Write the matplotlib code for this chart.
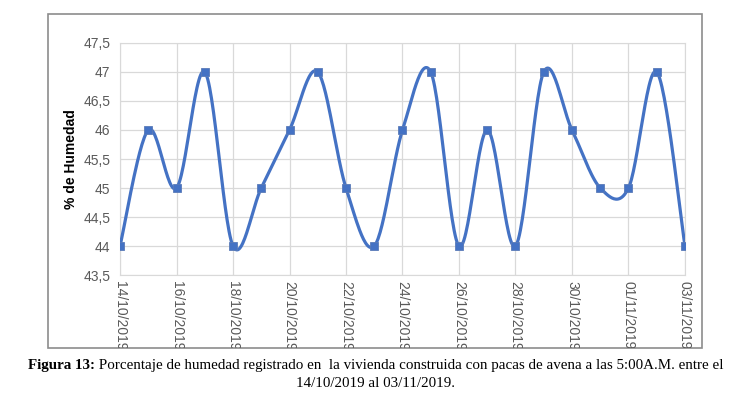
import numpy as np
import matplotlib.pyplot as plt
from matplotlib.patches import Rectangle

# Daily humidity at 5:00 A.M.
dates = ["14/10/2019", "15/10/2019", "16/10/2019", "17/10/2019", "18/10/2019",
         "19/10/2019", "20/10/2019", "21/10/2019", "22/10/2019", "23/10/2019",
         "24/10/2019", "25/10/2019", "26/10/2019", "27/10/2019", "28/10/2019",
         "29/10/2019", "30/10/2019", "31/10/2019", "01/11/2019", "02/11/2019",
         "03/11/2019"]
humedad = [44, 46, 45, 47, 44, 45, 46, 47, 45, 44, 46, 47, 44, 46, 44,
           47, 46, 45, 45, 47, 44]
y_ticks = [43.5, 44, 44.5, 45, 45.5, 46, 46.5, 47, 47.5]

plt.rcParams["font.family"] = "Liberation Sans"


def smooth(x, y, n=30):
    """Excel-like smoothed line (Catmull-Rom bezier segments)"""
    x = np.asarray(x, float)
    y = np.asarray(y, float)
    px = np.concatenate([[x[0]], x, [x[-1]]])
    py = np.concatenate([[y[0]], y, [y[-1]]])
    xs, ys = [], []
    t = np.linspace(0, 1, n)
    for i in range(len(x) - 1):
        p0 = np.array([px[i], py[i]])
        p1 = np.array([px[i + 1], py[i + 1]])
        p2 = np.array([px[i + 2], py[i + 2]])
        p3 = np.array([px[i + 3], py[i + 3]])
        c1 = p1 + (p2 - p0) / 6
        c2 = p2 - (p3 - p1) / 6
        b = ((1 - t) ** 3)[:, None] * p1 + (3 * (1 - t) ** 2 * t)[:, None] * c1 \
            + (3 * (1 - t) * t ** 2)[:, None] * c2 + (t ** 3)[:, None] * p2
        xs.extend(b[:, 0])
        ys.extend(b[:, 1])
    return np.array(xs), np.array(ys)


fig = plt.figure(figsize=(7.51, 3.98), dpi=100)

# chart frame
frame = Rectangle((0.064, 0.126), 0.871, 0.839, transform=fig.transFigure,
                  facecolor="white", edgecolor="#8c8c8c", linewidth=1.2,
                  zorder=-5)
fig.patches.append(frame)

ax = fig.add_axes([0.1598, 0.309, 0.7523, 0.583])
ax.set_facecolor("none")
x = np.arange(len(dates))
sx, sy = smooth(x, humedad)
ax.plot(sx, sy, color="#4472C4", linewidth=2.3, zorder=3)
ax.plot(x, humedad, ls="none", marker="s", markersize=6, color="#4472C4",
        markeredgecolor="#5A7BB8", markeredgewidth=0.6, zorder=4)

ax.set_xlim(0, len(dates) - 1)
ax.set_ylim(43.5, 47.5)
ax.set_yticks(y_ticks)
ax.set_yticklabels([f"{v:g}".replace(".", ",") for v in y_ticks])
ax.set_xticks(x[::2])
ax.set_xticklabels(dates[::2], rotation=270)
ax.tick_params(axis="y", length=0, colors="#595959", labelsize=10, pad=7)
ax.tick_params(axis="x", length=0, colors="#595959", labelsize=10, pad=4)
ax.grid(True, color="#d9d9d9", linewidth=0.9)
for s in ax.spines.values():
    s.set_color("#d9d9d9")
ax.set_ylabel("% de Humedad", fontsize=10, fontweight="bold", labelpad=4)

for lbl in ax.get_xticklabels():
    lbl.set_clip_path(frame)

# caption: bold prefix + regular text, centred together
cap_font = dict(fontsize=10.8, family="Liberation Serif", va="baseline")
t1 = fig.text(0, 0.072, "Figura 13:", fontweight="bold", ha="left", **cap_font)
t2 = fig.text(0, 0.072,
              " Porcentaje de humedad registrado en  la vivienda construida con pacas de avena a las 5:00A.M. entre el",
              ha="left", **cap_font)
fig.canvas.draw()
r = fig.canvas.get_renderer()
w1 = t1.get_window_extent(r).width / fig.bbox.width
w2 = t2.get_window_extent(r).width / fig.bbox.width
x0 = 0.5 - (w1 + w2) / 2
t1.set_x(x0)
t2.set_x(x0 + w1)
fig.text(0.5, 0.028, "14/10/2019 al 03/11/2019.", ha="center", **cap_font)

fig.savefig("out.png", dpi=100)
